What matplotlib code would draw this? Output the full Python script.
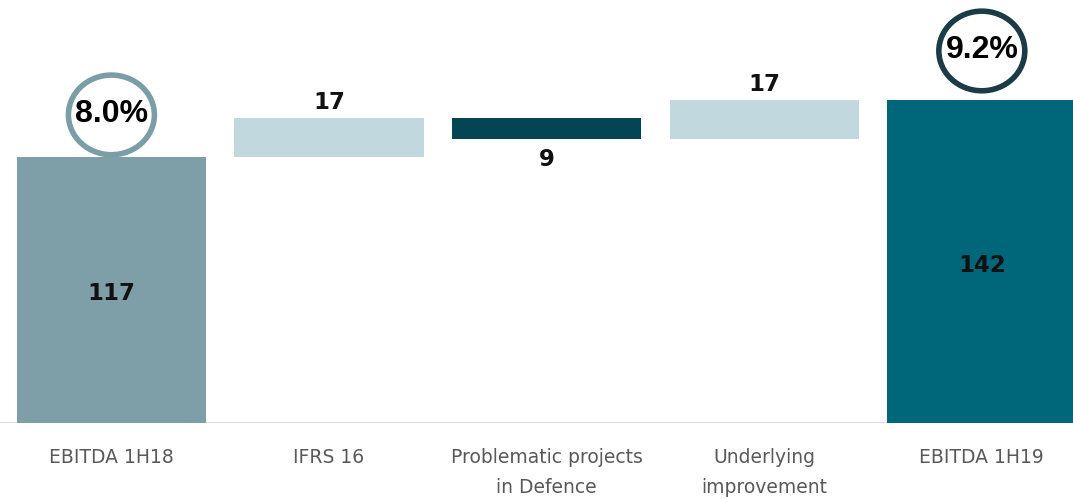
import matplotlib.pyplot as plt
from matplotlib.patches import Ellipse

categories = ["EBITDA 1H18", "IFRS 16", "Problematic projects\nin Defence",
              "Underlying\nimprovement", "EBITDA 1H19"]
values = [117, 17, -9, 17, 142]
kinds = ["total", "delta", "delta", "delta", "total"]
margins = ["8.0%", "9.2%"]

colors = ["#7f9fa8", "#c1d8df", "#034555", "#c1d8df", "#00667a"]
ring_colors = ["#7b9da6", "#1b3b47"]

# waterfall bottoms / heights
bottoms, heights = [], []
running = 0
for v, k in zip(values, kinds):
    if k == "total":
        bottoms.append(0)
        heights.append(v)
        running = v
    else:
        bottoms.append(min(running, running + v))
        heights.append(abs(v))
        running += v

fig = plt.figure(figsize=(10.73, 4.99), dpi=100)
ax = fig.add_axes([0, 0.152, 1, 0.848])

x = list(range(len(categories)))
ax.bar(x, heights, bottom=bottoms, width=0.87, color=colors, zorder=2)

ax.set_xlim(-0.512, 4.419)
ax.set_ylim(0, 186)

for i, (v, k) in enumerate(zip(values, kinds)):
    top = bottoms[i] + heights[i]
    if k == "total":
        ax.text(i, bottoms[i] + heights[i] / 2 - 1.5, f"{v}", ha="center", va="center",
                fontsize=16.5, fontweight="bold", color="#111111")
    elif v >= 0:
        ax.text(i, top + 2, f"{v}", ha="center", va="bottom",
                fontsize=16.5, fontweight="bold", color="#111111")
    else:
        ax.text(i, bottoms[i] - 4, f"{abs(v)}", ha="center", va="top",
                fontsize=16.5, fontweight="bold", color="#111111")

# margin rings over the two EBITDA totals
totals = [i for i, k in enumerate(kinds) if k == "total"]
ring_offsets = [18.5, 21.6]
for idx, label, col, off in zip(totals, margins, ring_colors, ring_offsets):
    cy = values[idx] + off
    ax.add_patch(Ellipse((idx, cy), 0.395, 35, fill=False, edgecolor=col,
                         linewidth=4, clip_on=False, zorder=3))
    ax.text(idx, cy + 0.5, label, ha="center", va="center", fontsize=23,
            fontweight="bold", family=["Liberation Sans", "DejaVu Sans"],
            color="black", zorder=4)

ax.axhline(0, color="#d9d9d9", linewidth=2, zorder=1)
for s in ax.spines.values():
    s.set_visible(False)
ax.set_yticks([])
ax.set_xticks(x)
ax.set_xticklabels(categories, fontsize=13.5, color="#595959", linespacing=1.75)
ax.tick_params(axis="x", length=0, pad=18)

fig.savefig("out.png", dpi=100)
